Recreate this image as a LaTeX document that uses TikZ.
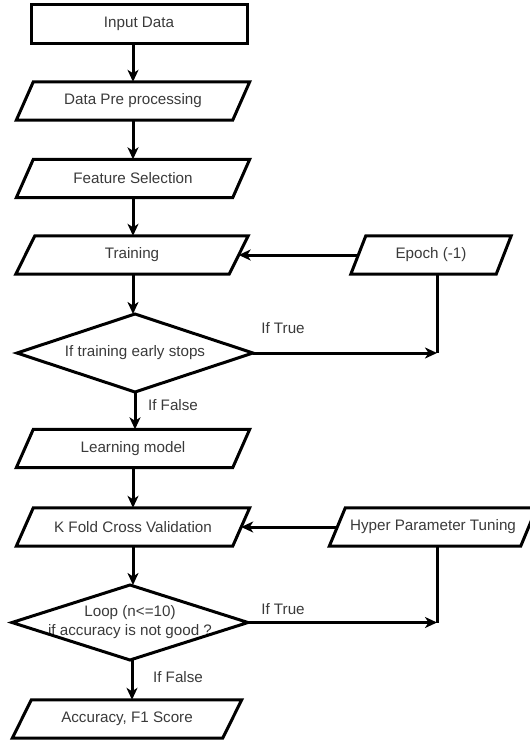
\documentclass[tikz,border=0pt]{standalone}
\usepackage{fontspec}
\setmainfont{Liberation Sans}
\usetikzlibrary{arrows.meta,calc}
\definecolor{txt}{HTML}{3A3A3A}
\tikzset{
  box/.style={draw=black,line width=3pt,minimum height=39pt,inner sep=0pt,text=txt,font=\fontsize{15.2}{18}\selectfont},
  para/.style={inner sep=0pt,minimum height=38pt,text=txt,font=\fontsize{15.2}{18}\selectfont},
  dec/.style={inner sep=0pt,outer sep=0pt,text=txt,align=center,font=\fontsize{15.2}{19}\selectfont},
  lbl/.style={text=txt,font=\fontsize{15.2}{18}\selectfont,inner sep=0pt},
  arr/.style={line width=3pt,-{Stealth[length=12pt,width=11pt,inset=3.5pt]}},
  ln/.style={line width=3pt},
  pg/.style={draw=black,line width=3pt,line join=miter}
}
\newcommand{\parashape}[2]{% name, half skew
  \draw[pg] ($(#1.north west)+(#2,0)$) -- ($(#1.north east)+(#2,0)$) -- ($(#1.south east)-(#2,0)$) -- ($(#1.south west)-(#2,0)$) -- cycle;}
\newcommand{\diashape}[1]{%
  \draw[pg] (#1.north) -- (#1.east) -- (#1.south) -- (#1.west) -- cycle;}
\begin{document}
\begin{tikzpicture}[x=1pt,y=-1pt]
\useasboundingbox (0,0) rectangle (530,742);
\node[box,minimum width=216pt] (in) at (139,23.5) {Input Data};
\node[para,minimum width=216pt] (dp) at (133,101) {Data Pre processing};
\node[para,minimum width=216pt] (fs) at (133,178.5) {Feature Selection};
\node[para,minimum width=213pt] (tr) at (132,255) {Training};
\node[para,minimum width=145pt] (ep) at (431,255) {Epoch (-1)};
\node[dec,minimum width=236pt,minimum height=78pt] (d1) at (135,353) {If training early stops};
\node[para,minimum width=216pt] (lm) at (133,448.5) {Learning model};
\node[para,minimum width=216pt] (kf) at (133,527) {K Fold Cross Validation};
\node[para,minimum width=191pt] (hp) at (433,527) {Hyper Parameter Tuning};
\node[dec,minimum width=236pt,minimum height=75pt] (d2) at (130,622.5) {Loop (n<=10)\\if accuracy is not good ?};
\node[para,minimum width=210pt] (acc) at (127,719) {Accuracy, F1 Score};
\foreach \n/\s in {dp/8.5,fs/8.5,tr/9.5,ep/7.5,lm/8.5,kf/8.5,hp/8,acc/9.5}{\parashape{\n}{\s}}
\diashape{d1}
\diashape{d2}
\coordinate (j1) at (437,353);
\coordinate (j2) at (437,622.5);
\draw[arr] (in.south -| 133,0) -- (dp.north);
\draw[arr] (dp.south) -- (fs.north);
\draw[arr] (fs.south) -- (tr.north -| fs.south);
\draw[arr] (tr.south -| fs.south) -- (d1.north -| fs.south);
\draw[arr] (ep.west) -- (tr.east);
\draw[ln] (ep.south -| j1) -- (j1);
\draw[arr] (d1.east) -- (j1);
\draw[arr] (d1.south -| 135,0) -- (lm.north -| 135,0);
\draw[arr] (lm.south) -- (kf.north);
\draw[arr] (kf.south) -- (d2.north -| kf.south);
\draw[arr] (hp.west) -- (kf.east);
\draw[ln] (hp.south -| j2) -- (j2);
\draw[arr] (d2.east) -- (j2);
\draw[arr] (d2.south -| 132,0) -- (acc.north -| 132,0);
\node[lbl] (t1) at (283,328) {If True};
\node[lbl] (f1) at (173,405) {If False};
\node[lbl] (t2) at (283,609) {If True};
\node[lbl] (f2) at (178,677) {If False};
\end{tikzpicture}
\end{document}
